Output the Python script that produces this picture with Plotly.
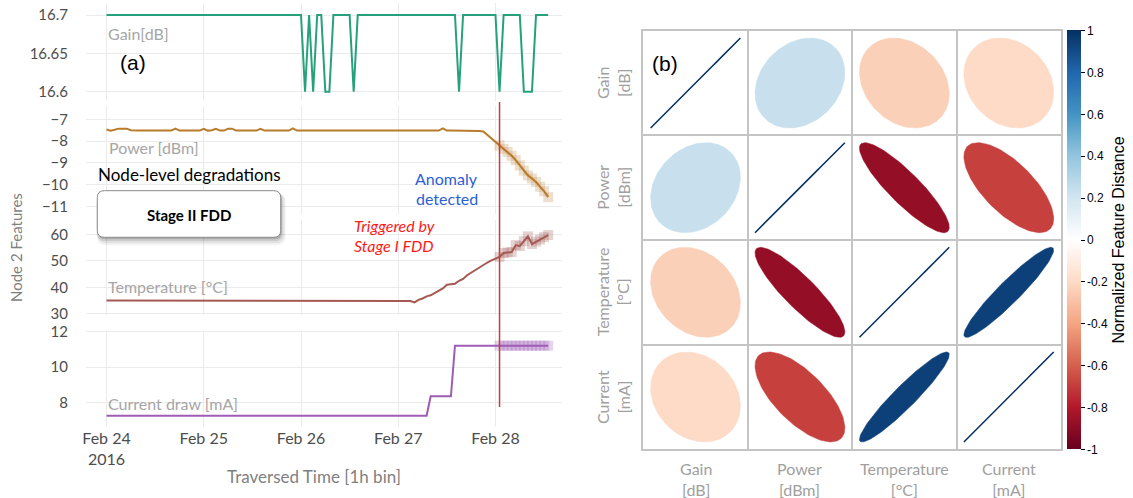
import plotly.graph_objects as go
import pandas as pd
import math

W, H = 1133, 498

# ---------------- data (hourly bins, Node 2) ----------------
start_time = "2016-02-24 00:00"
hours = list(range(110))

gain = [
    16.7, 16.7, 16.7, 16.7, 16.7, 16.7, 16.7, 16.7, 16.7, 16.7,
    16.7, 16.7, 16.7, 16.7, 16.7, 16.7, 16.7, 16.7, 16.7, 16.7,
    16.7, 16.7, 16.7, 16.7, 16.7, 16.7, 16.7, 16.7, 16.7, 16.7,
    16.7, 16.7, 16.7, 16.7, 16.7, 16.7, 16.7, 16.7, 16.7, 16.7,
    16.7, 16.7, 16.7, 16.7, 16.7, 16.7, 16.7, 16.7, 16.7, 16.6,
    16.7, 16.6, 16.7, 16.7, 16.6, 16.6, 16.7, 16.7, 16.7, 16.7,
    16.7, 16.6, 16.7, 16.7, 16.7, 16.7, 16.7, 16.7, 16.7, 16.7,
    16.7, 16.7, 16.7, 16.7, 16.7, 16.7, 16.7, 16.7, 16.7, 16.7,
    16.7, 16.7, 16.7, 16.7, 16.7, 16.7, 16.7, 16.6, 16.7, 16.7,
    16.7, 16.7, 16.7, 16.7, 16.7, 16.7, 16.7, 16.6, 16.7, 16.7,
    16.7, 16.7, 16.7, 16.6, 16.6, 16.6, 16.7, 16.7, 16.7, 16.7,
]

power = [
    -7.47, -7.52, -7.48, -7.43, -7.43, -7.43, -7.50, -7.52, -7.52, -7.52,
    -7.52, -7.52, -7.52, -7.52, -7.52, -7.52, -7.52, -7.43, -7.52, -7.52,
    -7.52, -7.52, -7.52, -7.52, -7.44, -7.52, -7.50, -7.44, -7.52, -7.52,
    -7.43, -7.43, -7.52, -7.52, -7.52, -7.52, -7.52, -7.52, -7.44, -7.52,
    -7.52, -7.52, -7.52, -7.52, -7.52, -7.52, -7.42, -7.52, -7.52, -7.52,
    -7.52, -7.52, -7.52, -7.52, -7.52, -7.52, -7.52, -7.52, -7.52, -7.52,
    -7.52, -7.52, -7.52, -7.52, -7.52, -7.52, -7.52, -7.52, -7.52, -7.52,
    -7.52, -7.52, -7.52, -7.52, -7.52, -7.52, -7.52, -7.52, -7.52, -7.52,
    -7.52, -7.52, -7.52, -7.42, -7.52, -7.52, -7.52, -7.52, -7.52, -7.52,
    -7.52, -7.52, -7.54, -7.56, -7.72, -7.90, -8.03, -8.20, -8.36, -8.50,
    -8.68, -8.88, -9.12, -9.36, -9.58, -9.72, -9.88, -10.10, -10.30, -10.58,
]

temperature = [
    35.0, 35.0, 35.0, 35.0, 35.0, 35.0, 35.0, 35.0, 35.0, 35.0,
    35.0, 35.0, 35.0, 35.0, 35.0, 35.0, 35.0, 35.0, 35.0, 35.0,
    35.0, 35.0, 35.0, 35.0, 35.0, 35.0, 35.0, 35.0, 35.0, 35.0,
    35.0, 35.0, 35.0, 35.0, 35.0, 35.0, 35.0, 35.0, 35.0, 35.0,
    35.0, 35.0, 35.0, 35.0, 35.0, 35.0, 35.0, 35.0, 35.0, 35.0,
    35.0, 35.0, 35.0, 35.0, 35.0, 35.0, 35.0, 35.0, 35.0, 35.0,
    35.0, 35.0, 35.0, 35.0, 35.0, 35.0, 35.0, 35.0, 35.0, 35.0,
    35.0, 35.0, 35.0, 35.0, 35.0, 34.8, 34.3, 35.3, 35.8, 36.6,
    37.0, 37.8, 38.6, 39.6, 41.0, 41.2, 41.4, 42.5, 43.2, 44.6,
    45.6, 46.6, 47.6, 48.5, 49.4, 50.2, 50.9, 51.5, 53.0, 53.2,
    53.4, 56.0, 55.6, 57.5, 59.3, 56.4, 57.3, 58.1, 59.0, 59.8,
]

current = [
    7.25, 7.25, 7.25, 7.25, 7.25, 7.25, 7.25, 7.25, 7.25, 7.25,
    7.25, 7.25, 7.25, 7.25, 7.25, 7.25, 7.25, 7.25, 7.25, 7.25,
    7.25, 7.25, 7.25, 7.25, 7.25, 7.25, 7.25, 7.25, 7.25, 7.25,
    7.25, 7.25, 7.25, 7.25, 7.25, 7.25, 7.25, 7.25, 7.25, 7.25,
    7.25, 7.25, 7.25, 7.25, 7.25, 7.25, 7.25, 7.25, 7.25, 7.25,
    7.25, 7.25, 7.25, 7.25, 7.25, 7.25, 7.25, 7.25, 7.25, 7.25,
    7.25, 7.25, 7.25, 7.25, 7.25, 7.25, 7.25, 7.25, 7.25, 7.25,
    7.25, 7.25, 7.25, 7.25, 7.25, 7.25, 7.25, 7.25, 7.25, 7.25,
    8.35, 8.35, 8.35, 8.35, 8.35, 8.35, 11.2, 11.2, 11.2, 11.2,
    11.2, 11.2, 11.2, 11.2, 11.2, 11.2, 11.2, 11.2, 11.2, 11.2,
    11.2, 11.2, 11.2, 11.2, 11.2, 11.2, 11.2, 11.2, 11.2, 11.2,
]

anomaly_hour = 97  # Feb 28 01:00 -> anomaly detected

gain_ticks = [16.6, 16.65, 16.7]
gain_ticktext = ["16.6", "16.65", "16.7"]
power_ticks = [-11, -10, -9, -8, -7]
power_ticktext = ["\u221211", "\u221210", "\u22129", "\u22128", "\u22127"]
temp_ticks = [30, 40, 50, 60]
temp_ticktext = ["30", "40", "50", "60"]
current_ticks = [8, 10, 12]
current_ticktext = ["8", "10", "12"]

date_ticks = ["2016-02-24", "2016-02-25", "2016-02-26", "2016-02-27", "2016-02-28"]
date_ticktext = ["Feb 24<br>2016", "Feb 25", "Feb 26", "Feb 27", "Feb 28"]

# correlation matrix (right panel)
features = ["Gain", "Power", "Temperature", "Current"]
units = ["[dB]", "[dBm]", "[\u00b0C]", "[mA]"]
corr = [
    [1.00, 0.23, -0.24, -0.20],
    [0.23, 1.00, -0.88, -0.69],
    [-0.24, -0.88, 1.00, 0.94],
    [-0.20, -0.69, 0.94, 1.00],
]
cbar_ticks = [-1, -0.8, -0.6, -0.4, -0.2, 0, 0.2, 0.4, 0.6, 0.8, 1]
cbar_ticktext = ["-1", "-0.8", "-0.6", "-0.4", "-0.2", "0", "0.2", "0.4", "0.6", "0.8", "1"]

RDBU = ["#67001F", "#B2182B", "#D6604D", "#F4A582", "#FDDBC7", "#FFFFFF",
        "#D1E5F0", "#92C5DE", "#4393C3", "#2166AC", "#053061"]

# ---------------- helpers ----------------
def fx(x):
    return x / W

def fy(y):
    return 1 - y / H

def hexrgb(h):
    h = h.lstrip("#")
    return tuple(int(h[i:i + 2], 16) for i in (0, 2, 4))

def color_of(v):
    t = (v + 1) / 2 * (len(RDBU) - 1)
    i = min(int(t), len(RDBU) - 2)
    f = t - i
    a, b = hexrgb(RDBU[i]), hexrgb(RDBU[i + 1])
    c = [round(a[k] + (b[k] - a[k]) * f) for k in range(3)]
    return "rgb(%d,%d,%d)" % tuple(c)

def rrect(x0, y0, x1, y1, r):
    return (f"M {fx(x0+r)},{fy(y0)} L {fx(x1-r)},{fy(y0)} Q {fx(x1)},{fy(y0)} {fx(x1)},{fy(y0+r)} "
            f"L {fx(x1)},{fy(y1-r)} Q {fx(x1)},{fy(y1)} {fx(x1-r)},{fy(y1)} "
            f"L {fx(x0+r)},{fy(y1)} Q {fx(x0)},{fy(y1)} {fx(x0)},{fy(y1-r)} "
            f"L {fx(x0)},{fy(y0+r)} Q {fx(x0)},{fy(y0)} {fx(x0+r)},{fy(y0)} Z")

t0 = pd.Timestamp(start_time)
times = [t0 + pd.Timedelta(hours=h) for h in hours]

# x mapping for left panel
LX0, LX1 = 86, 562
PX_DAY0 = 106.5
PX_PER_H = 4.052
xr0 = t0 + pd.Timedelta(hours=(LX0 - PX_DAY0) / PX_PER_H)
xr1 = t0 + pd.Timedelta(hours=(LX1 - PX_DAY0) / PX_PER_H)
xrange = [xr0.strftime("%Y-%m-%d %H:%M:%S"), xr1.strftime("%Y-%m-%d %H:%M:%S")]

TICKC = "#4d4d4d"
LFONT = "Lato"
GRID = "#ebebeb"
TFS = 15

panels = [
    dict(y=gain, color="#26a17b", dom=(3, 101), ref=(16.7, 15, 16.6, 91.7),
         tv=gain_ticks, tt=gain_ticktext, hl=False, hlc=None),
    dict(y=power, color="#b87a2b", dom=(106, 214), ref=(-7, 119.3, -11, 206.3),
         tv=power_ticks, tt=power_ticktext, hl=True, hlc="rgba(200,150,90,0.3)"),
    dict(y=temperature, color="#a45a52", dom=(220, 315), ref=(60, 234.5, 30, 313.8),
         tv=temp_ticks, tt=temp_ticktext, hl=True, hlc="rgba(170,110,105,0.3)"),
    dict(y=current, color="#9e5cb5", dom=(330, 427), ref=(12, 331.5, 8, 402.5),
         tv=current_ticks, tt=current_ticktext, hl=True, hlc="rgba(165,110,190,0.3)"),
]

fig = go.Figure()
layout = dict(width=W, height=H, margin=dict(l=0, r=0, t=0, b=0, autoexpand=False),
              paper_bgcolor="white", plot_bgcolor="white", showlegend=False)

for k, p in enumerate(panels, start=1):
    xa = "x" if k == 1 else f"x{k}"
    ya = "y" if k == 1 else f"y{k}"
    if p["hl"]:
        fig.add_trace(go.Scatter(x=times[anomaly_hour:], y=p["y"][anomaly_hour:], mode="markers",
                                 marker=dict(symbol="square", size=10, color=p["hlc"], line=dict(width=0)),
                                 xaxis=xa, yaxis=ya, hoverinfo="skip"))
    fig.add_trace(go.Scatter(x=times, y=p["y"], mode="lines",
                             line=dict(color=p["color"], width=2),
                             xaxis=xa, yaxis=ya))
    v1, p1, v2, p2 = p["ref"]
    s = (v2 - v1) / (p2 - p1)
    top, bot = p["dom"]
    yr = [v1 + (bot - p1) * s, v1 + (top - p1) * s]
    xname = "xaxis" if k == 1 else f"xaxis{k}"
    yname = "yaxis" if k == 1 else f"yaxis{k}"
    layout[xname] = dict(domain=[fx(LX0), fx(LX1)], anchor=ya, range=xrange, type="date",
                         showgrid=True, gridcolor=GRID, gridwidth=1, zeroline=False, automargin=False,
                         tickvals=date_ticks, ticktext=date_ticktext,
                         showticklabels=(k == 4), ticks="",
                         tickfont=dict(family=LFONT, size=16, color=TICKC), showline=False)
    layout[yname] = dict(domain=[fy(bot), fy(top)], anchor=xa, range=yr, automargin=False,
                         showgrid=True, gridcolor=GRID, gridwidth=1, zeroline=False,
                         tickvals=p["tv"], ticktext=p["tt"], ticks="outside", ticklen=14,
                         tickcolor="rgba(0,0,0,0)",
                         tickfont=dict(family=LFONT, size=TFS, color=TICKC), showline=False)

# ---------------- correlation panel ----------------
GX0, GX1, GY0, GY1 = 643.3, 1061.0, 30.7, 449.3
NT = 120
for i in range(4):
    for j in range(4):
        rho = corr[i][j]
        cx, cy = j + 0.5, 3.5 - i
        d = math.acos(max(-1.0, min(1.0, rho))) / 2
        ts = [2 * math.pi * n / NT for n in range(NT + 1)]
        ex = [cx + 0.43 * math.cos(t + d) for t in ts]
        ey = [cy + 0.43 * math.cos(t - d) for t in ts]
        col = color_of(rho)
        if i == j:
            fig.add_trace(go.Scatter(x=ex, y=ey, mode="lines", line=dict(color=col, width=1.5),
                                     xaxis="x5", yaxis="y5", hoverinfo="skip"))
        else:
            fig.add_trace(go.Scatter(x=ex, y=ey, mode="lines", fill="toself", fillcolor=col,
                                     line=dict(color=col, width=0.5),
                                     xaxis="x5", yaxis="y5", hoverinfo="skip"))

cs = [[n / (len(RDBU) - 1), c] for n, c in enumerate(RDBU)]
fig.add_trace(go.Scatter(x=[-10], y=[-10], mode="markers", xaxis="x5", yaxis="y5",
                         marker=dict(size=1, color=[0], colorscale=cs, cmin=-1, cmax=1, showscale=True,
                                     colorbar=dict(x=fx(1067), xanchor="left", y=fy((GY0 + GY1) / 2),
                                                   yanchor="middle", len=(GY1 - GY0) / H, lenmode="fraction",
                                                   thickness=14, thicknessmode="pixels", outlinewidth=0,
                                                   xpad=0, ypad=0, ticks="outside", ticklen=4,
                                                   tickcolor="black", tickvals=cbar_ticks, ticktext=cbar_ticktext,
                                                   tickfont=dict(family="Liberation Sans", size=12, color="black"),
                                                   title=dict(text="Normalized Feature Distance", side="right",
                                                              font=dict(family="Liberation Sans", size=16,
                                                                        color="black")))),
                         hoverinfo="skip"))

GRIDC = "#c4c4c4"
layout["xaxis5"] = dict(domain=[fx(GX0), fx(GX1)], anchor="y5", range=[0, 4], dtick=1, tick0=0,
                        showgrid=True, gridcolor=GRIDC, gridwidth=1.5, zeroline=False, automargin=False,
                        showticklabels=False, ticks="", showline=True, mirror=True,
                        linecolor=GRIDC, linewidth=1.5, fixedrange=True)
layout["yaxis5"] = dict(domain=[fy(GY1), fy(GY0)], anchor="x5", range=[0, 4], dtick=1, tick0=0,
                        showgrid=True, gridcolor=GRIDC, gridwidth=1.5, zeroline=False, automargin=False,
                        showticklabels=False, ticks="", showline=True, mirror=True,
                        linecolor=GRIDC, linewidth=1.5, fixedrange=True)

# ---------------- annotations ----------------
ann = []

def A(text, x, y, size=15, color="black", family=LFONT, xanchor="center", angle=0):
    ann.append(dict(text=text, x=fx(x), y=fy(y), xref="paper", yref="paper", showarrow=False,
                    xanchor=xanchor, yanchor="middle", textangle=angle,
                    font=dict(family=family, size=size, color=color)))

LBL = "#a6a6a6"
A("Gain[dB]", 106, 33, 16, LBL, xanchor="left")
A("(a)", 133, 62, 21, "black", "Liberation Sans")
A("Power [dBm]", 107, 147, 16, LBL, xanchor="left")
A("Temperature [\u00b0C]", 106, 286.5, 16, LBL, xanchor="left")
A("Current draw [mA]", 106, 403, 16, LBL, xanchor="left")
A("Node-level degradations", 189, 175, 17, "black")
A("<b>Stage II FDD</b>", 189, 215, 15, "black")
A("Anomaly", 446.5, 178.5, 16, "#2c5fd6")
A("detected", 446.5, 198.5, 16, "#2c5fd6")
A("<i>Triggered by</i>", 352, 225, 16, "#ff1a1a", xanchor="left")
A("<i>Stage I FDD</i>", 352, 245, 16, "#ff1a1a", xanchor="left")
A("Traversed Time [1h bin]", 314, 476, 17, "#7f7f7f")
A("Node 2 Features", 16, 248, 15, "#7f7f7f", angle=-90)

A("(b)", 665, 63, 21, "black", "Liberation Sans")
cw = (GX1 - GX0) / 4
ch = (GY1 - GY0) / 4
for n in range(4):
    A(f"{features[n]}<br>{units[n]}", 613, GY0 + ch * (n + 0.5), 16, "#a0a0a0", angle=-90)
    A(f"{features[n]}<br>{units[n]}", GX0 + cw * (n + 0.5), 479, 16, "#a0a0a0")

layout["annotations"] = ann

# ---------------- shapes ----------------
shapes = []
bx0, by0, bx1, by1, br = 97.3, 190.7, 280.7, 237.3, 7
for dx, dy, g, a in [(2, 5, 3, 0.05), (2, 4, 2, 0.08), (1, 3, 1, 0.12), (1, 2, 0, 0.18)]:
    shapes.append(dict(type="path", path=rrect(bx0 + dx - g, by0 + dy - g, bx1 + dx + g, by1 + dy + g, br + g),
                       xref="paper", yref="paper", fillcolor=f"rgba(40,40,40,{a})", line=dict(width=0)))
shapes.append(dict(type="path", path=rrect(bx0, by0, bx1, by1, br), xref="paper", yref="paper",
                   fillcolor="white", line=dict(color="#8a8a8a", width=1)))
shapes.append(dict(type="line", xref="x4", yref="paper", x0=times[anomaly_hour], x1=times[anomaly_hour],
                   y0=fy(407), y1=fy(102), line=dict(color="#cc3a3a", width=1.5)))
layout["shapes"] = shapes

fig.update_layout(**layout)
fig.write_html("out.html", config={"displayModeBar": False},
               post_script="document.body.style.margin='0';document.body.style.overflow='hidden';")
